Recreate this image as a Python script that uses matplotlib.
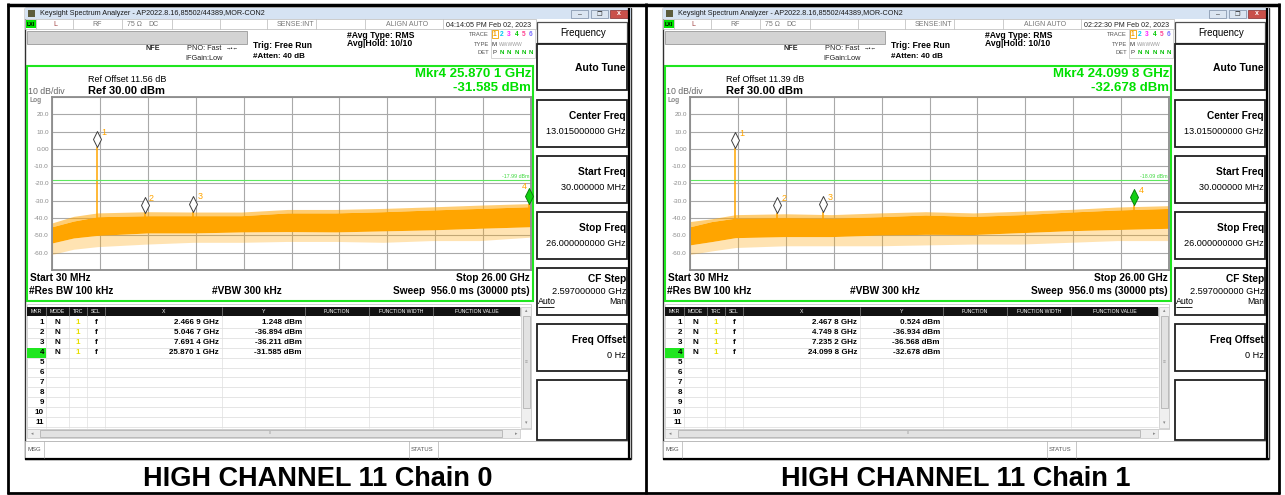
import numpy as np
import matplotlib
matplotlib.use("Agg")
import matplotlib.pyplot as plt
from matplotlib.patches import Rectangle
from matplotlib.path import Path
from matplotlib.transforms import blended_transform_factory

plt.rcParams['font.family'] = ['Liberation Sans', 'DejaVu Sans']

W, H = 1285, 495

# ---- analyzer settings (same for both screens) ----
freq_start, freq_stop = 0.03, 26.0   # GHz
ref_level = 30.0
y_tick_text = ["-60.0", "-50.0", "-40.0", "-30.0", "-20.0", "-10.0", "0.00", "10.0", "20.0"]
menu_title = "Frequency"
menu_keys = ["Center Freq", "Start Freq", "Stop Freq", "CF Step", "Freq Offset"]
menu_values = ["13.015000000 GHz", "30.000000 MHz", "26.000000000 GHz", "2.597000000 GHz", "0 Hz"]
table_cols = ["MKR", "MODE", "TRC", "SCL", "X", "Y", "FUNCTION", "FUNCTION WIDTH", "FUNCTION VALUE"]

# ---- noise floor envelope (dBm) ----
env_freq = [0.03, 1.2, 2.5, 5.2, 7.7, 10.3, 12.8, 15.4, 18.0, 20.6, 23.2, 26.0]

c0_peak = [-42.8, -39.0, -37.0, -36.3, -36.5, -36.5, -35.0, -35.0, -34.4, -33.5, -32.5, -31.6]
c0_top = [-45.0, -41.7, -39.2, -38.6, -38.6, -38.6, -37.0, -37.0, -36.3, -35.3, -34.4, -33.4]
c0_bot = [-54.4, -51.5, -50.0, -48.6, -48.6, -48.0, -47.8, -48.0, -47.4, -46.8, -45.9, -45.0]
c0_low = [-61.0, -58.0, -56.5, -55.0, -54.0, -54.0, -53.5, -53.5, -54.0, -53.0, -53.0, -51.0]

c1_peak = [-42.0, -40.4, -38.0, -37.5, -38.0, -37.0, -36.3, -37.0, -36.0, -35.0, -33.6, -32.8]
c1_top = [-45.0, -42.0, -40.0, -39.7, -40.0, -39.2, -38.2, -39.0, -38.0, -36.5, -35.3, -34.4]
c1_bot = [-55.5, -53.6, -51.3, -50.7, -50.7, -49.8, -49.4, -49.5, -48.4, -47.3, -46.6, -45.9]
c1_low = [-61.0, -59.0, -57.0, -56.0, -56.0, -56.0, -55.5, -55.0, -55.0, -54.0, -53.0, -53.0]

# ---- markers ----
c0_mkr_freq = [2.4669, 5.0467, 7.6914, 25.8701]
c0_mkr_dbm = [1.248, -36.894, -36.211, -31.585]
c1_mkr_freq = [2.4678, 4.7498, 7.2352, 24.0998]
c1_mkr_dbm = [0.524, -36.934, -36.568, -32.678]

c0_display_line = -17.99
c1_display_line = -18.09
c0_ref_offset = 11.56
c1_ref_offset = 11.39
c0_time = "04:14:05 PM Feb 02, 2023"
c1_time = "02:22:30 PM Feb 02, 2023"
captions = ["HIGH CHANNEL 11 Chain 0", "HIGH CHANNEL 11 Chain 1"]

ORANGE = '#ffa500'
GREEN = '#1fe61f'

fig = plt.figure(figsize=(W / 100, H / 100), dpi=100)
bg = fig.add_axes([0, 0, 1, 1])
bg.set_xlim(0, W)
bg.set_ylim(H, 0)
bg.axis('off')


def rect(x, y, w, h, fc='white', ec='none', lw=0.7, z=1):
    bg.add_patch(Rectangle((x, y), w, h, facecolor=fc, edgecolor=ec, linewidth=lw, zorder=z))


def txt(x, y, s, size=6, color='black', weight='normal', ha='left', va='center', z=3):
    bg.text(x, y, s, fontsize=size, color=color, fontweight=weight, ha=ha, va=va, zorder=z)


def line(xs, ys, color='black', lw=1.0, z=2):
    bg.plot(xs, ys, color=color, lw=lw, zorder=z, solid_capstyle='butt')


def fmt_ghz(f):
    s = f"{f:.4f}"
    return s[:-1] + " " + s[-1]


diamond = Path([(0, 0), (0.25, 0.5), (0, 1), (-0.25, 0.5), (0, 0)],
               [Path.MOVETO, Path.LINETO, Path.LINETO, Path.LINETO, Path.CLOSEPOLY])


def draw_panel(dx, peak, top, bot, low, mkr_f, mkr_v, dline, ref_off, clock, caption):
    # window frame and title bar
    rect(25 + dx, 8, 606, 451, fc='white', ec='#303030', lw=1.0, z=0)
    rect(25 + dx, 8, 606, 11, fc='#d6e3f3', ec='none', z=1)
    rect(28 + dx, 10, 7, 7, fc='#5c5c3c', z=2)
    txt(40 + dx, 13.7, "Keysight Spectrum Analyzer - AP2022.8.16,85502/44389,MOR-CON2",
        size=5.2, color='#1a1a1a')
    rect(571 + dx, 10, 17, 8, fc='#dbe5f1', ec='#7c8ca4', lw=0.5, z=2)
    rect(591 + dx, 10, 17, 8, fc='#dbe5f1', ec='#7c8ca4', lw=0.5, z=2)
    rect(610 + dx, 10, 18, 8, fc='#c9504a', ec='#8a3030', lw=0.5, z=2)
    txt(579.5 + dx, 14.5, "–", size=5, color='#333', ha='center')
    txt(599.5 + dx, 14, "❐", size=4.5, color='#333', ha='center')
    txt(619 + dx, 13.8, "x", size=5, color='white', weight='bold', ha='center')
    line([629 + dx, 629 + dx], [8, 459], lw=1.6)
    line([25 + dx, 631 + dx], [458.5, 458.5], lw=1.6)

    # status row
    rect(25 + dx, 19, 511, 10, fc='white', ec='#b8b8b8', lw=0.5)
    for cx in [36, 73, 122, 172, 220, 267, 316, 365, 443]:
        line([cx + dx, cx + dx], [19, 29], color='#b8b8b8', lw=0.5)
    rect(26 + dx, 20, 10, 8, fc='#00e400', z=2)
    txt(31 + dx, 24.2, "LXI", size=3.8, weight='bold', ha='center')
    txt(53 + dx, 24.2, "L", size=5, color='#a04040')
    txt(92 + dx, 24.2, "RF", size=5, color='#777')
    txt(127 + dx, 24.2, "75 Ω", size=5, color='#777')
    txt(148 + dx, 24.2, "DC", size=5, color='#777')
    txt(314 + dx, 24.2, "SENSE:INT", size=5, color='#777', ha='right')
    txt(407 + dx, 24.2, "ALIGN AUTO", size=5, color='#777', ha='center')
    txt(446 + dx, 24.2, clock, size=5.1, color='#222')

    # settings block
    rect(27 + dx, 31, 220, 13, fc='#d3d3d3', ec='#9a9a9a', lw=0.6)
    txt(153 + dx, 49, "NFE", size=5.2, weight='bold', ha='center', color='#222')
    txt(187 + dx, 49, "PNO: Fast", size=5.3, color='#222')
    txt(232 + dx, 48.5, "→•←", size=4, color='#222', ha='center')
    txt(185 + dx, 58, "IFGain:Low", size=5.3, color='#222')
    txt(253 + dx, 45, "Trig: Free Run", size=6.2, weight='bold')
    txt(253 + dx, 57, "#Atten: 40 dB", size=5.8, weight='bold')
    txt(347 + dx, 35, "#Avg Type: RMS", size=6.2, weight='bold')
    txt(347 + dx, 44, "Avg|Hold: 10/10", size=6.2, weight='bold')

    # trace legend box
    rect(491 + dx, 29, 44, 29, fc='white', ec='#c4c4c4', lw=0.5)
    for lbl, yy in [("TRACE", 34), ("TYPE", 44), ("DET", 53)]:
        txt(489 + dx, yy, lbl, size=4.2, color='#555', ha='right')
    trace_colors = ['#f0a000', '#00c8f0', '#ff20ff', '#00c800', '#ff4090', '#7a70ff']
    for i, c in enumerate(trace_colors):
        txt(494.5 + dx + i * 7.3, 34, str(i + 1), size=4.8, color=c, weight='bold', ha='center')
    rect(491.5 + dx, 30, 6.5, 8, fc='none', ec='#f0a000', lw=0.6, z=2)
    txt(494.5 + dx, 44, "M", size=4.3, color='#333', ha='center')
    txt(499 + dx, 44, "WWWWW", size=3.6, color='#999')
    txt(494.5 + dx, 53, "P", size=4.3, color='#333', ha='center')
    for i in range(5):
        txt(501.8 + dx + i * 7.3, 53, "N", size=4.5, color='#00c000', weight='bold', ha='center')

    # graticule frame and annotation
    rect(27 + dx, 66, 506, 235, fc='none', ec=GREEN, lw=1.5, z=4)
    txt(88 + dx, 80, f"Ref Offset {ref_off:.2f} dB", size=6.5)
    txt(28 + dx, 92, "10 dB/div", size=6.3, color='#666')
    txt(88 + dx, 91, f"Ref {ref_level:.2f} dBm", size=8, weight='bold')
    txt(30 + dx, 100, "Log", size=4.8, color='#888', weight='bold')
    txt(531 + dx, 74, f"Mkr4 {fmt_ghz(mkr_f[3])} GHz", size=9.5, weight='bold', color='#00e000', ha='right')
    txt(531 + dx, 88, f"{mkr_v[3]:.3f} dBm", size=9.5, weight='bold', color='#00e000', ha='right')
    txt(30 + dx, 278, "Start 30 MHz", size=7.3, weight='bold')
    txt(29 + dx, 291, "#Res BW 100 kHz", size=7.3, weight='bold')
    txt(212 + dx, 291, "#VBW 300 kHz", size=7.3, weight='bold')
    txt(530 + dx, 278, "Stop 26.00 GHz", size=7.3, weight='bold', ha='right')
    txt(530 + dx, 291, "Sweep  956.0 ms (30000 pts)", size=7.3, weight='bold', ha='right')

    # spectrum plot
    ax = fig.add_axes([(52 + dx) / W, 1 - 270 / H, 479 / W, 173 / H])
    ax.set_xlim(freq_start, freq_stop)
    ax.set_ylim(ref_level - 100, ref_level)
    ax.set_xticks(np.linspace(freq_start, freq_stop, 11))
    ax.set_yticks(np.arange(-70, 31, 10), labels=[""] + y_tick_text + [""])
    ax.tick_params(length=0, labelsize=4.6, labelcolor='#8a8a8a', pad=2.2)
    ax.tick_params(axis='x', labelbottom=False)
    ax.grid(True, color='#a9a9a9', lw=0.8)
    ax.set_axisbelow(True)
    for sp in ax.spines.values():
        sp.set_color('#8c8c8c')
        sp.set_linewidth(1.3)

    ax.fill_between(env_freq, low, bot, color=ORANGE, alpha=0.3, lw=0)
    ax.fill_between(env_freq, top, peak, color=ORANGE, alpha=0.55, lw=0)
    ax.fill_between(env_freq, bot, top, color=ORANGE, lw=0)
    ax.vlines(mkr_f, -42, mkr_v, color=ORANGE, lw=1.1)

    ax.axhline(dline, color='#5ee85e', lw=0.8)
    tr = blended_transform_factory(ax.transAxes, ax.transData)
    ax.text(0.997, dline + 0.8, f"{dline:.2f} dBm", transform=tr, fontsize=3.8,
            color='#3ed83e', ha='right', va='bottom')

    for i, (f, v) in enumerate(zip(mkr_f, mkr_v)):
        active = i == 3
        ax.plot(f, v, marker=diamond, ms=23, mfc='#12d012' if active else 'white',
                mec='#0a800a' if active else '#404040', mew=0.7, ls='none',
                clip_on=False, zorder=5)
        off = (-3, 12.5) if f > 25 else (5, 10.5)
        ax.annotate(str(i + 1), (f, v), xytext=off, textcoords='offset points',
                    fontsize=6.5, color=ORANGE, ha='center', va='center', zorder=6)

    # marker table
    cols = [27, 46, 69, 87, 105, 222, 305, 369, 433, 520]
    rect(27 + dx, 304, 504, 125, fc='white', ec='#c0c0c0', lw=0.5)
    rect(27 + dx, 307, 493, 9, fc='#121212', z=2)
    for j, name in enumerate(table_cols):
        txt((cols[j] + cols[j + 1]) / 2 + dx, 311.7, name, size=3.7, color='white', ha='center')
        line([cols[j + 1] + dx] * 2, [307, 316], color='#888', lw=0.5, z=3)
    row_h = 9.9
    for r in range(11):
        yc = 323 + r * row_h
        line([27 + dx, 520 + dx], [yc + row_h / 2] * 2, color='#dadada', lw=0.5)
        if r == 3:
            rect(27 + dx, yc - row_h / 2, 19, row_h, fc=GREEN, z=2)
        txt(44 + dx, yc, str(r + 1), size=5.8, weight='bold', ha='right')
        if r < 4:
            txt(57 + dx, yc, "N", size=5.8, weight='bold', ha='center')
            txt(78 + dx, yc, "1", size=5.8, weight='bold', ha='center', color='#e8e000')
            txt(96 + dx, yc, "f", size=5.8, weight='bold', ha='center')
            txt(219 + dx, yc, f"{fmt_ghz(mkr_f[r])} GHz", size=5.8, weight='bold', ha='right')
            txt(302 + dx, yc, f"{mkr_v[r]:.3f} dBm", size=5.8, weight='bold', ha='right')
    for cx in cols[1:-1]:
        line([cx + dx] * 2, [316, 428], color='#dedede', lw=0.5)

    # scrollbars
    rect(27 + dx, 429, 493, 9, fc='#ededed', ec='#c8c8c8', lw=0.5)
    rect(40 + dx, 430, 462, 7, fc='#e2e2e2', ec='#a8a8a8', lw=0.5, z=2)
    txt(32 + dx, 433.5, "◂", size=3.5, color='#888', ha='center')
    txt(516 + dx, 433.5, "▸", size=3.5, color='#888', ha='center')
    txt(270 + dx, 433.5, "III", size=3, color='#999', ha='center')
    rect(521 + dx, 307, 10, 121, fc='#efefef', ec='#c8c8c8', lw=0.5)
    rect(522.5 + dx, 316, 7, 92, fc='#e2e2e2', ec='#a8a8a8', lw=0.5, z=2)
    txt(526 + dx, 311, "▴", size=3.5, color='#888', ha='center')
    txt(526 + dx, 423, "▾", size=3.5, color='#888', ha='center')
    txt(526 + dx, 362, "≡", size=3.5, color='#999', ha='center')

    # message row
    rect(25 + dx, 441, 604, 17, fc='white', ec='#b0b0b0', lw=0.6)
    for cx in [44, 409, 438]:
        line([cx + dx] * 2, [441, 458], color='#b0b0b0', lw=0.5)
    txt(28 + dx, 449.5, "MSG", size=4.3, color='#555')
    txt(411 + dx, 449.5, "STATUS", size=4.3, color='#555')

    # soft key menu
    rect(537 + dx, 22, 90, 21, fc='white', ec='#505050', lw=0.9)
    txt(583 + dx, 32.5, menu_title, size=7, ha='center')
    rect(537 + dx, 44, 90, 46, fc='white', ec='#202020', lw=1.3)
    txt(626 + dx, 68, "Auto Tune", size=7.5, weight='bold', ha='right')
    for k, (key, val) in enumerate(zip(menu_keys, menu_values)):
        top_y = 100 + k * 56
        rect(537 + dx, top_y, 90, 47, fc='white', ec='#202020', lw=1.3)
        if key == "CF Step":
            txt(626 + dx, top_y + 11, key, size=7.3, weight='bold', ha='right')
            txt(626 + dx, top_y + 23, val, size=6.6, ha='right')
            txt(538 + dx, top_y + 34, "Auto", size=6.3, ha='left')
            line([538 + dx, 554 + dx], [top_y + 38.5] * 2, lw=0.6)
            txt(626 + dx, top_y + 34, "Man", size=6.3, ha='right')
        else:
            txt(626 + dx, top_y + 16, key, size=7.3, weight='bold', ha='right')
            txt(626 + dx, top_y + 31, val, size=6.6, ha='right')
    rect(537 + dx, 380, 90, 60, fc='white', ec='#202020', lw=1.3)

    txt(318 + dx, 479, caption, size=19.5, weight='bold', ha='center')


draw_panel(0, c0_peak, c0_top, c0_bot, c0_low, c0_mkr_freq, c0_mkr_dbm,
           c0_display_line, c0_ref_offset, c0_time, captions[0])
draw_panel(638, c1_peak, c1_top, c1_bot, c1_low, c1_mkr_freq, c1_mkr_dbm,
           c1_display_line, c1_ref_offset, c1_time, captions[1])

# outer table border
line([8, 8], [3, 494], lw=2)
line([646, 646], [3, 494], lw=2)
line([1279, 1279], [3, 494], lw=2)
line([7, 1280], [4.5, 4.5], lw=2.5)
line([7, 1280], [493, 493], lw=2)

fig.savefig("out.png", dpi=100)
